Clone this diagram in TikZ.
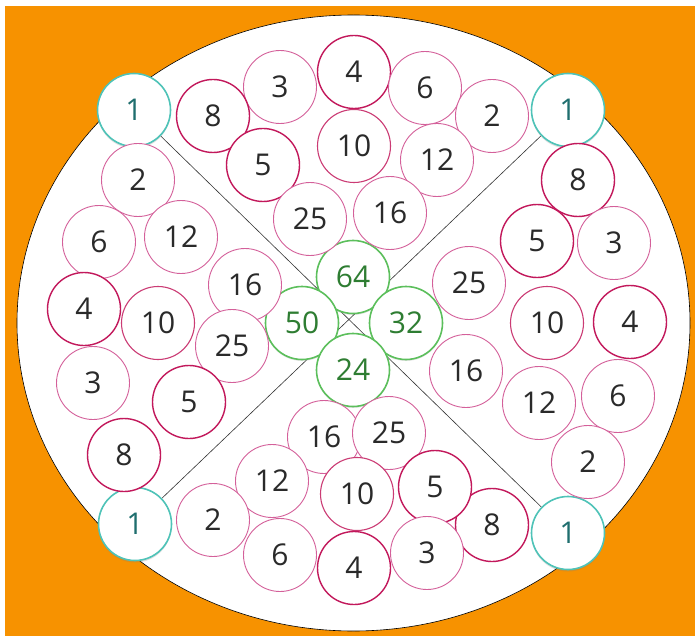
\documentclass[tikz,border=0pt]{standalone}
\usepackage{fontspec}
\setsansfont{Open Sans}
\usepackage{xcolor}
\usepackage{tikz}
\usetikzlibrary{backgrounds,shadows}

\definecolor{bgorange}{HTML}{F79200}
\definecolor{ringlight}{HTML}{D4609A}
\definecolor{ringdark}{HTML}{C2185B}
\definecolor{ringteal}{HTML}{4FC3B8}
\definecolor{txtteal}{HTML}{1F6E6E}
\definecolor{ringgreen}{HTML}{5CBF5C}
\definecolor{txtgreen}{HTML}{2E7D32}
\definecolor{txtgray}{HTML}{2A2A2A}

\begin{document}
\begin{tikzpicture}[
    x=1pt, y=-1pt,
    font=\sffamily\fontsize{30}{30}\selectfont,
    disc/.style={circle, fill=white, minimum size=73pt, inner sep=0pt, text=txtgray},
    lite/.style={disc, draw=ringlight, line width=0.9pt},
    mid/.style={disc, draw=ringdark!85, line width=1.1pt},
    dark/.style={disc, draw=ringdark, line width=1.4pt},
    corner/.style={disc, draw=ringteal, line width=1.6pt, text=txtteal,
      drop shadow={shadow xshift=0pt, shadow yshift=-2pt, opacity=0.25}},
    hub/.style={disc, draw=ringgreen, line width=1.6pt, text=txtgreen,
      drop shadow={shadow xshift=0pt, shadow yshift=-1.5pt, opacity=0.2}},
  ]
  \useasboundingbox (0,0) rectangle (695,636);

  % --- Corners ---
  \node[corner] (ctl) at (134,110) {1};
  \node[corner] (ctr) at (568,110) {1};
  \node[corner] (cbl) at (135,524) {1};
  \node[corner] (cbr) at (568,533) {1};

  % --- Centre ---
  \node[hub] (h64) at (353,277) {64};
  \node[hub] (h50) at (302,323) {50};
  \node[hub] (h32) at (406,323) {32};
  \node[hub] (h24) at (353,370) {24};

  % --- Top ---
  \foreach \n/\x/\y/\s in {3/280/87/lite, 4/354/72/dark, 6/425/88/lite,
      8/213/116/dark, 2/492/116/lite, 10/354/146/mid, 5/263/165/dark,
      12/437/160/lite, 25/310/219/lite, 16/390/213/lite} {
    \node[\s] (t\n) at (\x,\y) {\n};
  }
  % --- Left ---
  \foreach \n/\x/\y/\s in {2/138/180/lite, 6/99/242/lite, 12/181/237/lite,
      16/245/285/lite, 4/84/309/dark, 10/158/323/mid, 25/232/346/lite,
      3/93/383/lite, 5/189/402/dark, 8/124/455/dark} {
    \node[\s] (l\n) at (\x,\y) {\n};
  }
  % --- Right ---
  \foreach \n/\x/\y/\s in {8/578/180/dark, 5/537/241/dark, 3/614/243/lite,
      25/469/283/lite, 10/547/323/mid, 4/630/322/dark, 16/466/371/lite,
      12/539/403/lite, 6/618/396/lite, 2/588/462/lite} {
    \node[\s] (r\n) at (\x,\y) {\n};
  }
  % --- Bottom ---
  \foreach \n/\x/\y/\s in {16/324/437/lite, 25/389/433/lite, 12/272/481/lite,
      10/357/494/mid, 8/492/525/dark, 5/435/487/dark, 2/213/520/lite,
      6/280/555/lite, 4/354/568/dark, 3/427/553/lite} {
    \node[\s] (b\n) at (\x,\y) {\n};
  }

  % background, plate and the two diagonals
  \begin{pgfonlayer}{background}
    \fill[bgorange] (5,6) rectangle (695,636);
    \draw[fill=white, line width=0.6pt] (353.5,323) ellipse [x radius=336.5, y radius=308];
    \draw[line width=0.6pt, black!80] (ctl) -- (cbr);
    \draw[line width=0.6pt, black!80] (ctr) -- (cbl);
  \end{pgfonlayer}
\end{tikzpicture}
\end{document}
